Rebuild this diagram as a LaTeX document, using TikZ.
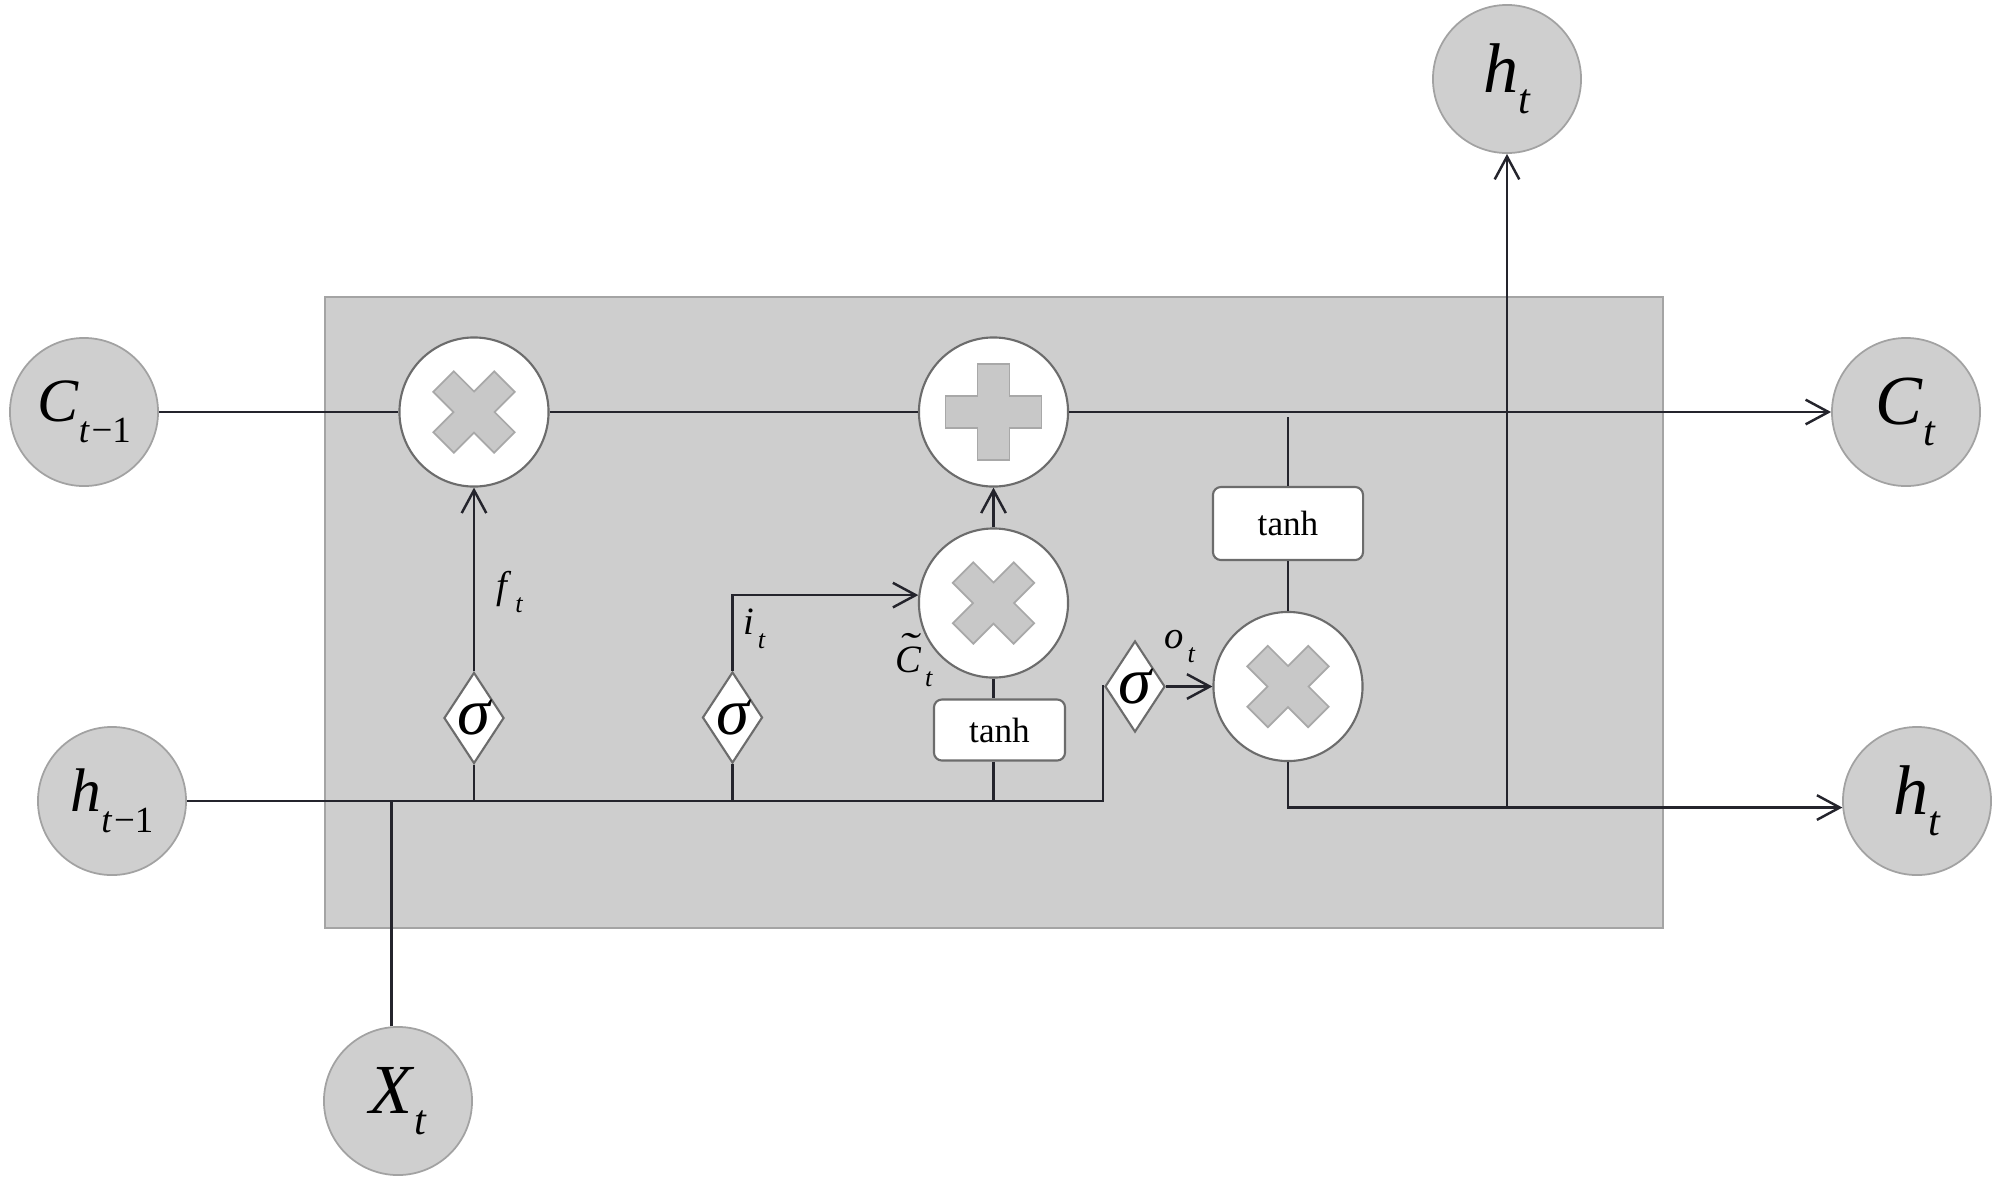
\documentclass[tikz,border=0pt]{standalone}
\usepackage{fontspec}
\usepackage{graphicx}
\setmainfont{Liberation Serif}
\usetikzlibrary{shapes.geometric,arrows.meta}
\definecolor{cellfill}{HTML}{CECECE}
\definecolor{cellline}{HTML}{A4A4A4}
\definecolor{iofill}{HTML}{CFCFCF}
\definecolor{ioline}{HTML}{A2A2A2}
\definecolor{opline}{HTML}{6C6C6C}
\definecolor{symfill}{HTML}{C8C8C8}
\definecolor{symline}{HTML}{A8A8A8}
\definecolor{wirecol}{HTML}{24242C}

\newcommand{\iosub}[2]{\textit{#1}\raisebox{-6pt}{\fontsize{12}{12}\selectfont\textit{#2}}}
\newcommand{\iosubprev}[1]{\textit{#1}\raisebox{-6pt}{\fontsize{10.5}{10.5}\selectfont\textit{t}\kern0.5pt−1}}
\newcommand{\lblsub}[2]{\textit{#1}\raisebox{-4pt}{\fontsize{7.5}{8}\selectfont\kern1pt\textit{#2}}}
\newcommand{\tildeC}{\ooalign{\hfil\raisebox{3.6pt}{\scalebox{1.5}[1]{˜}}\hfil\cr\textit{C}\cr}}
\newcommand{\opcross}[1]{\filldraw[sym, shift={(#1.center)}, rotate=45] (-14.5,-43) -- (14.5,-43) -- (14.5,-14.5) -- (43,-14.5) -- (43,14.5) -- (14.5,14.5) -- (14.5,43) -- (-14.5,43) -- (-14.5,14.5) -- (-43,14.5) -- (-43,-14.5) -- (-14.5,-14.5) -- cycle;}
\newcommand{\opplus}[1]{\filldraw[sym, shift={(#1.center)}] (-16,-48) -- (16,-48) -- (16,-16) -- (48,-16) -- (48,16) -- (16,16) -- (16,48) -- (-16,48) -- (-16,16) -- (-48,16) -- (-48,-16) -- (-16,-16) -- cycle;}

\begin{document}
\begin{tikzpicture}[x=0.01cm,y=-0.01cm,
  wire/.style={draw=wirecol, line width=0.7pt},
  arr/.style={-{Straight Barb[length=6.5pt,width=7pt]}},
  io/.style={circle, minimum size=1.48cm, inner sep=0pt, fill=iofill, draw=ioline, line width=0.5pt, font=\fontsize{20}{24}\selectfont},
  ioprev/.style={io, font=\fontsize{17.5}{20}\selectfont},
  op/.style={circle, minimum size=1.49cm, inner sep=0pt, fill=white, draw=opline, line width=0.6pt},
  gatebox/.style={diamond, minimum width=0.6cm, minimum height=0.91cm, inner sep=0pt, aspect=0.66, fill=white, draw=opline, line width=0.6pt, font=\fontsize{19}{19}\selectfont\itshape},
  fnbox/.style={rectangle, rounded corners=0.08cm, inner sep=0pt, fill=white, draw=opline, line width=0.6pt, font=\fontsize{10}{12}\selectfont},
  lbl/.style={inner sep=0pt, anchor=base west, font=\fontsize{11}{13}\selectfont},
  sym/.style={fill=symfill, draw=symline, line width=0.5pt},
  cellbox/.style={rectangle, inner sep=0pt, fill=cellfill, draw=cellline, line width=0.5pt}
]
\useasboundingbox (0,0) rectangle (1999,1181);

% cell
\node[cellbox, minimum width=13.37cm, minimum height=6.31cm] (cell) at (993.75,612.5) {};

% inputs / outputs
\node[ioprev] (cprev) at (84,412) {\iosubprev{C}};
\node[ioprev] (hprev) at (112,801) {\iosubprev{h}};
\node[io] (xt) at (398,1101) {\iosub{X}{t}};
\node[io] (htop) at (1507,79) {\iosub{h}{t}};
\node[io] (ct) at (1906,412) {\iosub{C}{t}};
\node[io] (hnext) at (1917,801) {\iosub{h}{t}};

% operators
\node[op] (fgate) at (474,412) {};
\node[op] (add) at (993.5,412) {};
\node[op] (igate) at (993.5,603) {};
\node[op] (ogate) at (1288,686.5) {};
\opcross{fgate}
\opplus{add}
\opcross{igate}
\opcross{ogate}

% sigma gates
\node[gatebox] (sf) at (474,718) {σ};
\node[gatebox] (si) at (732.5,717.5) {σ};
\node[gatebox] (so) at (1135,686.5) {σ};

% tanh boxes
\node[fnbox, minimum width=1.31cm, minimum height=0.61cm] (tanhA) at (999.5,730) {tanh};
\node[fnbox, minimum width=1.50cm, minimum height=0.73cm] (tanhB) at (1288,523.5) {tanh};

% helper coordinates
\coordinate (hbend) at (1103,801);
\coordinate (ctap) at (1288,417);
\coordinate (hout) at (htop |- hnext.185);

% cell state line
\draw[wire] (cprev) -- (fgate);
\draw[wire] (fgate) -- (add);
\draw[wire, arr] (add) -- (ct);

% hidden / input line
\draw[wire] (hprev) -- (hbend) |- (so.west);
\draw[wire] (xt.95) -- (xt.95 |- hbend);

% forget gate
\draw[wire] (sf) -- (sf |- hbend);
\draw[wire, arr] (sf) -- (fgate);

% input gate
\draw[wire] (si) -- (si |- hbend);
\draw[wire, arr] (si.north) |- (igate.174);
\draw[wire, arr] (igate) -- (add);
\draw[wire] (igate.south) -- (igate.south |- tanhA.north);
\draw[wire] (igate |- tanhA.south) -- (igate |- hbend);

% output gate
\draw[wire, arr] (so) -- (ogate);
\draw[wire] (ctap) -- (ctap |- tanhB.north);
\draw[wire] (tanhB) -- (ogate);
\draw[wire, arr] (ogate.south) |- (hnext.185);
\draw[wire, arr] (hout) -- (htop);

% labels
\node[lbl] (flbl) at (496,598) {\lblsub{f}{t}};
\node[lbl] (ilbl) at (743,634) {\lblsub{i}{t}};
\node[lbl] (clbl) at (895,672) {\lblsub{\tildeC}{t}};
\node[lbl] (olbl) at (1164,648) {\lblsub{o}{t}};
\end{tikzpicture}
\end{document}
